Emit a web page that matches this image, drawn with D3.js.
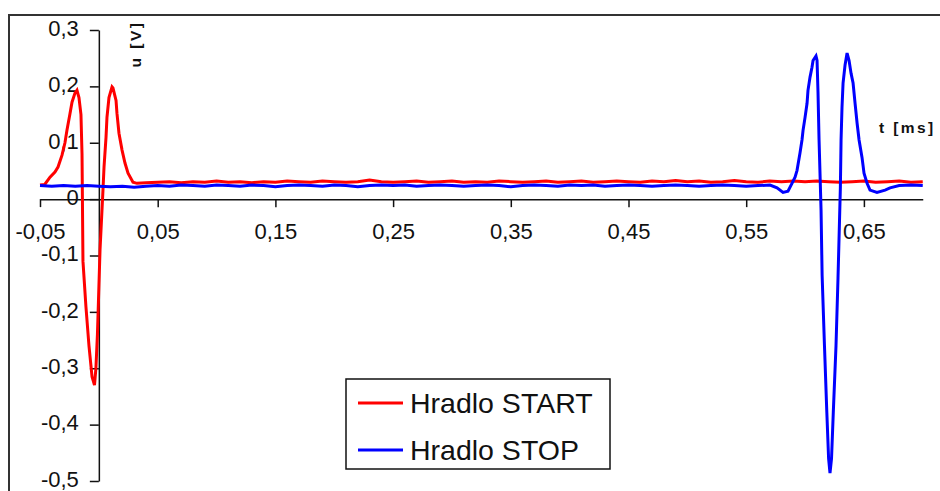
<!DOCTYPE html>
<html>
<head>
<meta charset="utf-8">
<script src="https://cdn.jsdelivr.net/npm/d3@7"></script>
<style>
html,body{margin:0;padding:0;background:#fff;}
svg{display:block;}
text{font-family:"Liberation Sans",Arial,sans-serif;fill:#111;}
</style>
</head>
<body>
<svg id="chart" width="940" height="491"></svg>
<script>
// ---- data ----
const seriesNames = ["Hradlo START", "Hradlo STOP"];

const startT = [-0.05,-0.046,-0.0415,-0.0373,-0.0347,-0.0313,-0.0288,-0.0271,-0.0245,-0.0228,-0.0203,-0.0186,-0.0169,-0.0152,-0.0143,-0.0135,-0.011,-0.0084,-0.0058,-0.0037,-0.0025,-0.0012,0.001,0.0035,0.0044,0.0061,0.0069,0.0086,0.0112,0.012,0.0146,0.0154,0.0171,0.0197,0.0222,0.0248,0.029,0.0324,
  0.04,0.05,0.06,0.07,0.08,0.09,0.10,0.11,0.12,0.13,0.14,0.15,0.16,0.17,0.18,0.19,0.20,0.21,0.22,0.23,0.24,0.25,0.26,0.27,0.28,0.29,0.30,0.31,0.32,0.33,0.34,0.35,0.36,0.37,0.38,0.39,0.40,0.41,0.42,0.43,0.44,0.45,0.46,0.47,0.48,0.49,0.50,0.51,0.52,0.53,0.54,0.55,0.56,0.57,0.58,0.59,0.60,0.61,0.62,0.63,0.64,0.65,0.66,0.67,0.68,0.69,0.70];
const startU = [0.025,0.026,0.039,0.048,0.057,0.078,0.100,0.122,0.152,0.172,0.188,0.193,0.180,0.150,0.080,-0.110,-0.190,-0.260,-0.315,-0.330,-0.300,-0.240,-0.090,0.016,0.057,0.110,0.145,0.180,0.199,0.197,0.175,0.152,0.117,0.087,0.064,0.046,0.030,0.028,
  0.029,0.030,0.031,0.029,0.031,0.030,0.032,0.030,0.031,0.029,0.031,0.030,0.032,0.031,0.030,0.032,0.031,0.030,0.031,0.034,0.031,0.030,0.031,0.032,0.030,0.031,0.032,0.030,0.031,0.030,0.032,0.031,0.030,0.031,0.032,0.030,0.031,0.032,0.030,0.031,0.032,0.031,0.030,0.032,0.031,0.033,0.031,0.032,0.030,0.031,0.033,0.031,0.030,0.032,0.031,0.032,0.031,0.032,0.031,0.030,0.031,0.032,0.030,0.031,0.032,0.030,0.031];

const stopT = [-0.05,-0.04,-0.03,-0.02,-0.01,0.00,0.01,0.02,0.03,0.04,0.05,0.06,0.07,0.08,0.09,0.10,0.11,0.12,0.13,0.14,0.15,0.16,0.17,0.18,0.19,0.20,0.21,0.22,0.23,0.24,0.25,0.26,0.27,0.28,0.29,0.30,0.31,0.32,0.33,0.34,0.35,0.36,0.37,0.38,0.39,0.40,0.41,0.42,0.43,0.44,0.45,0.46,0.47,0.48,0.49,0.50,0.51,0.52,0.53,0.54,0.55,0.56,
  0.5702,0.5762,0.5813,0.5855,0.5889,0.5915,0.5932,0.5957,0.5974,0.5983,0.6000,0.6017,0.6025,0.6042,0.6059,0.6068,0.6093,0.6102,0.6110,0.6119,0.6136,0.6145,0.6165,0.6185,0.6200,0.6212,0.6225,0.6240,0.6263,0.6280,0.6300,0.6306,0.6314,0.6323,0.6340,0.6357,0.6374,0.6391,0.6408,0.6425,0.6442,0.6459,0.6484,0.6501,0.6527,0.6552,0.6611,0.6680,0.6722,0.68,0.69,0.70];
const stopU = [0.024,0.023,0.024,0.023,0.024,0.023,0.022,0.023,0.021,0.023,0.024,0.023,0.025,0.024,0.023,0.025,0.024,0.023,0.025,0.024,0.022,0.024,0.025,0.024,0.023,0.025,0.024,0.022,0.024,0.025,0.024,0.025,0.023,0.024,0.025,0.024,0.023,0.024,0.025,0.024,0.022,0.024,0.025,0.024,0.023,0.025,0.024,0.025,0.023,0.024,0.025,0.024,0.023,0.024,0.025,0.024,0.023,0.024,0.025,0.024,0.023,0.024,
  0.025,0.020,0.012,0.014,0.028,0.039,0.051,0.082,0.105,0.122,0.145,0.170,0.193,0.216,0.234,0.246,0.254,0.246,0.190,0.105,-0.020,-0.135,-0.260,-0.378,-0.460,-0.486,-0.460,-0.378,-0.260,-0.140,0.020,0.105,0.163,0.206,0.238,0.259,0.246,0.223,0.206,0.170,0.135,0.105,0.074,0.046,0.028,0.016,0.012,0.016,0.020,0.024,0.025,0.024];

const xTickValues = [-0.05,0.05,0.15,0.25,0.35,0.45,0.55,0.65];
const xTickLabels = ["-0,05","0,05","0,15","0,25","0,35","0,45","0,55","0,65"];
const yTickValues = [0.3,0.2,0.1,0,-0.1,-0.2,-0.3,-0.4,-0.5];
const yTickLabels = ["0,3","0,2","0,1","0","-0,1","-0,2","-0,3","-0,4","-0,5"];
const xTitle = "t [ms]";
const yTitle = "u [V]";
const colors = ["#ff0000", "#0000ff"];

// ---- drawing ----
const svg = d3.select("#chart");

// chart frame
svg.append("path").attr("d", "M9,491 V15 H940")
  .attr("fill", "none").attr("stroke", "#333").attr("stroke-width", 2);

const x = d3.scaleLinear().domain([-0.05, 0.70]).range([40, 922.75]);
const y = d3.scaleLinear().domain([-0.5, 0.3]).range([481, 30]);

const xAxis = d3.axisBottom(x).tickValues(xTickValues)
  .tickFormat((d, i) => xTickLabels[i]).tickSizeInner(8).tickSizeOuter(0).tickPadding(16);
const gx = svg.append("g").attr("transform", `translate(0,${y(0)})`).call(xAxis);
gx.select(".domain").attr("stroke", "#111").attr("stroke-width", 1.5);
gx.selectAll(".tick line").attr("stroke", "#111").attr("stroke-width", 1.5);
gx.selectAll(".tick text").style("font-size", "22px").attr("fill", "#111");

const yAxis = d3.axisLeft(y).tickValues(yTickValues)
  .tickFormat((d, i) => yTickLabels[i]).tickSizeInner(9).tickSizeOuter(0).tickPadding(11);
const gy = svg.append("g").attr("transform", `translate(${x(0)},0)`).call(yAxis);
gy.select(".domain").attr("stroke", "#111").attr("stroke-width", 1.5);
gy.selectAll(".tick line").attr("stroke", "#111").attr("stroke-width", 1.5);
gy.selectAll(".tick text").style("font-size", "22px").attr("fill", "#111").attr("dy", "0.24em");

// series
const line = d3.line().x(d => x(d[0])).y(d => y(d[1]));
const seriesData = [
  d3.zip(startT, startU),
  d3.zip(stopT, stopU)
];
seriesData.forEach((data, i) => {
  svg.append("path").datum(data).attr("d", line)
    .attr("fill", "none").attr("stroke", colors[i]).attr("stroke-width", 3)
    .attr("stroke-linejoin", "miter");
});

// axis titles
svg.append("text").attr("x", 879).attr("y", 133).text(xTitle)
  .style("font-size", "15.5px").style("font-weight", "bold").style("letter-spacing", "2.4px");
svg.append("text").attr("transform", "translate(141,44) rotate(-90)")
  .attr("text-anchor", "middle").text(yTitle)
  .style("font-size", "15.5px").style("font-weight", "bold").style("letter-spacing", "2.5px");

// legend
const lg = svg.append("g");
lg.append("rect").attr("x", 346).attr("y", 379).attr("width", 264).attr("height", 90)
  .attr("fill", "#fff").attr("stroke", "#111").attr("stroke-width", 1.5);
seriesNames.forEach((name, i) => {
  const cy = [403, 450][i];
  lg.append("line").attr("x1", 358).attr("x2", 403).attr("y1", cy).attr("y2", cy)
    .attr("stroke", colors[i]).attr("stroke-width", 3);
  lg.append("text").attr("x", 410).attr("y", cy + 10).text(name)
    .style("font-size", "28.5px");
});
</script>
</body>
</html>
